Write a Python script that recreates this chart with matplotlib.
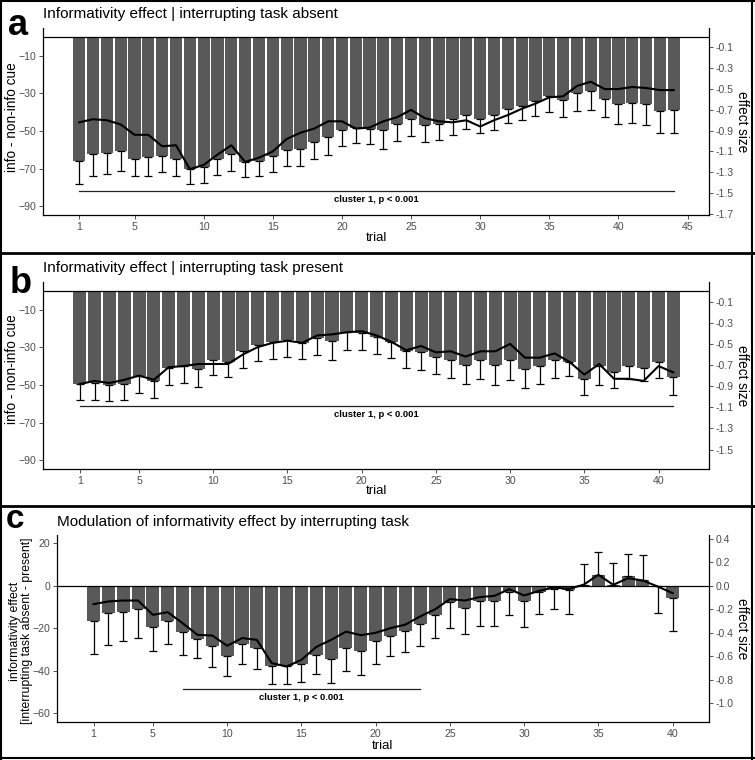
import matplotlib
matplotlib.use("Agg")
import matplotlib.pyplot as plt
from matplotlib.lines import Line2D
import numpy as np

plt.rcParams['font.family'] = ['Liberation Sans', 'DejaVu Sans']

# ---------------- data ----------------
# Panel a: interrupting task absent (44 trials)
a_mean = [-66, -62, -61.5, -60.4, -65, -64, -63.5, -65, -70, -69, -65, -62, -66.5, -65.7,
          -63, -59.9, -59.3, -55.8, -53.1, -49.2, -48.3, -48.9, -49.6, -46, -43.6, -46.9,
          -46, -43.6, -41.3, -43.4, -41.3, -38.3, -36.5, -34.2, -31.5, -33.7, -29.8, -28.9,
          -32.8, -35.4, -35.1, -35.6, -39.5, -38.6]
a_se = [12, 12, 11.5, 10.6, 9, 10, 8.5, 9, 8, 8.5, 8.5, 9, 8, 8.3, 9, 8.8, 9.4, 9.2, 9.8,
        8.8, 8, 8.1, 9.7, 9, 9.2, 9, 8.9, 8.3, 7.6, 7.6, 7.9, 7.4, 7.8, 8, 8.5, 8.8, 9.7,
        10, 9.9, 10.6, 10.6, 11, 11.5, 12.4]
a_es = [-0.82, -0.79, -0.80, -0.84, -0.94, -0.94, -1.05, -1.04, -1.27, -1.23, -1.13, -1.04,
        -1.20, -1.16, -1.10, -0.98, -0.92, -0.88, -0.81, -0.81, -0.88, -0.87, -0.81, -0.77,
        -0.70, -0.78, -0.81, -0.82, -0.80, -0.86, -0.80, -0.75, -0.69, -0.64, -0.58, -0.57,
        -0.47, -0.43, -0.50, -0.50, -0.48, -0.49, -0.51, -0.51]
a_cluster = (1, 44, -82)

# Panel b: interrupting task present (41 trials)
b_mean = [-49.6, -48.7, -50.1, -49.3, -45.4, -48.0, -40.8, -40.1, -41.7, -36.6, -37.8, -31.7,
          -28.7, -27.3, -26.0, -27.8, -25.2, -26.7, -22.0, -22.5, -24.3, -27.3, -31.7, -32.5,
          -35.2, -36.6, -39.2, -36.9, -39.2, -36.6, -41.3, -39.8, -36.9, -37.5, -46.6, -39.6,
          -43.1, -40.1, -40.8, -37.8, -45.8]
b_se = [8.4, 9.3, 8.3, 8.7, 8.8, 8.6, 9.3, 8.6, 9.3, 7.9, 8.1, 9.1, 8.6, 8.8, 9.2, 8.3, 8.7,
        9.7, 9.1, 8.8, 9.0, 8.2, 9.1, 9.7, 9.1, 9.8, 10.0, 9.9, 10.6, 10.5, 10.0, 9.4, 9.4,
        7.9, 8.8, 10.5, 8.5, 6.7, 7.2, 8.5, 9.6]
b_es = [-0.88, -0.85, -0.87, -0.84, -0.80, -0.84, -0.72, -0.71, -0.69, -0.69, -0.69, -0.60,
        -0.53, -0.49, -0.47, -0.49, -0.42, -0.41, -0.39, -0.38, -0.42, -0.48, -0.56, -0.52,
        -0.58, -0.57, -0.62, -0.57, -0.57, -0.50, -0.63, -0.63, -0.59, -0.67, -0.79, -0.69,
        -0.83, -0.83, -0.85, -0.71, -0.77]
b_cluster = (1, 41, -61.2)

# Panel c: modulation (absent - present), 40 trials
c_mean = [-16.4, -12.8, -12.1, -10.9, -19.4, -16.3, -21.9, -25.0, -28.2, -32.9, -27.2, -29.4,
          -37.6, -37.9, -36.6, -32.4, -34.4, -29.0, -30.5, -26.1, -23.5, -21.4, -17.8, -13.6,
          -7.5, -10.3, -7.2, -7.2, -2.7, -7.0, -3.0, -1.4, -1.9, 0.3, 5.3, 0.5, 4.5, 2.8,
          -0.3, -5.9]
c_se = [15.8, 15.2, 14.0, 13.5, 11.4, 10.9, 10.6, 9.1, 10.0, 9.7, 9.4, 9.6, 8.4, 8.2, 8.8,
        8.9, 11.3, 11.2, 11.4, 10.5, 9.7, 9.7, 10.7, 10.7, 12.5, 12.4, 11.5, 11.5, 10.9, 12.4,
        10.1, 9.5, 11.2, 10.0, 10.5, 10.4, 10.5, 11.8, 12.5, 15.1]
c_es = [-0.156, -0.133, -0.125, -0.125, -0.247, -0.224, -0.318, -0.417, -0.423, -0.51, -0.445,
        -0.46, -0.658, -0.687, -0.63, -0.52, -0.46, -0.39, -0.42, -0.40, -0.36, -0.33, -0.26,
        -0.20, -0.113, -0.125, -0.096, -0.085, -0.028, -0.082, -0.043, -0.014, -0.026, 0.009,
        0.094, 0.009, 0.065, 0.045, -0.006, -0.062]
c_cluster = (7, 23, -48.5)

a_title = "Informativity effect | interrupting task absent"
b_title = "Informativity effect | interrupting task present"
c_title = "Modulation of informativity effect by interrupting task"
cluster_label = "cluster 1, p < 0.001"

a_yticks = [-10, -30, -50, -70, -90]
a_es_ticks = [-0.1, -0.3, -0.5, -0.7, -0.9, -1.1, -1.3, -1.5, -1.7]
b_es_ticks = [-0.1, -0.3, -0.5, -0.7, -0.9, -1.1, -1.3, -1.5]
c_yticks = [20, 0, -20, -40, -60]
c_es_ticks = [0.4, 0.2, 0.0, -0.2, -0.4, -0.6, -0.8, -1.0]
a_xticks = [1, 5, 10, 15, 20, 25, 30, 35, 40, 45]
b_xticks = [1, 5, 10, 15, 20, 25, 30, 35, 40]

# ---------------- layout ----------------
W, H = 755, 760
fig = plt.figure(figsize=(W / 100, H / 100), dpi=100)

def fx(x):
    return x / W

def fy(y):
    return 1 - y / H

BAR = '#595959'
TICKC = '#4D4D4D'


def panel(box, mean, se, es, k, ylim, xlim, yticks, es_ticks, es_fmt, xticks, cluster):
    l, t, r, b = box
    ax = fig.add_axes([fx(l), fy(b), fx(r) - fx(l), fy(t) - fy(b)])
    n = len(mean)
    x = np.arange(1, n + 1)
    m = np.array(mean, dtype=float)
    s = np.array(se, dtype=float)
    ax.bar(x, m, width=0.88, color=BAR, zorder=2)
    lower = np.where(m < 0, s, 0)
    upper = np.where(m >= 0, s, 0)
    ax.errorbar(x, m, yerr=[lower, upper], fmt='none', ecolor='black', elinewidth=0.9,
                capsize=2.6, capthick=0.9, zorder=3)
    ax.axhline(0, color='black', lw=0.9, zorder=4)
    c0, c1, cy = cluster
    ax.plot([c0, c1], [cy, cy], color='#222222', lw=0.9, zorder=4)
    ax.text((c0 + c1) / 2, cy - 1.9 * (ylim[1] - ylim[0]) / 100, cluster_label,
            ha='center', va='top', fontsize=6.8, fontweight='bold', zorder=5)
    ax.set_xlim(*xlim)
    ax.set_ylim(*ylim)
    ax.set_yticks(yticks)
    ax.set_xticks(xticks)
    for sp in ['top', 'right']:
        ax.spines[sp].set_visible(False)
    for sp in ['left', 'bottom']:
        ax.spines[sp].set_linewidth(0.9)
    ax.tick_params(length=3, width=0.6, labelsize=7.6, labelcolor=TICKC, color='#333333', pad=2)
    ax2 = ax.twinx()
    ax2.set_ylim(ylim[0] / k, ylim[1] / k)
    ax2.plot(x, es, color='black', lw=1.5, zorder=6)
    ax2.set_yticks(es_ticks)
    ax2.set_yticklabels([es_fmt.format(v) for v in es_ticks])
    for sp in ['top', 'left', 'bottom']:
        ax2.spines[sp].set_visible(False)
    ax2.spines['right'].set_linewidth(0.9)
    ax2.tick_params(length=3, width=0.6, labelsize=7.6, labelcolor=TICKC, color='#333333', pad=2)
    return ax, ax2


ylim_ab = (-94.6, 4.8)
panel((43, 28, 709, 215), a_mean, a_se, a_es, 55.3, ylim_ab, (-1.62, 46.55),
      a_yticks, a_es_ticks, '{:.1f}', a_xticks, a_cluster)
panel((43, 282, 709, 469), b_mean, b_se, b_es, 56.2, ylim_ab, (-1.47, 43.4),
      a_yticks, b_es_ticks, '{:.1f}', b_xticks, b_cluster)
panel((57, 535, 709, 722), c_mean, c_se, c_es, 55.2, (-64.0, 23.9), (-1.46, 42.45),
      c_yticks, c_es_ticks, '{:.1f}', b_xticks, c_cluster)

# titles and panel letters
fig.text(fx(43), fy(18), a_title, fontsize=11, ha='left', va='baseline')
fig.text(fx(43), fy(272), b_title, fontsize=11, ha='left', va='baseline')
fig.text(fx(57), fy(526), c_title, fontsize=11, ha='left', va='baseline')
fig.text(fx(8), fy(35), 'a', fontsize=26, fontweight='bold', ha='left', va='baseline')
fig.text(fx(10), fy(293), 'b', fontsize=26, fontweight='bold', ha='left', va='baseline')
fig.text(fx(6), fy(528), 'c', fontsize=24, fontweight='bold', ha='left', va='baseline')

# axis labels
fig.text(fx(12), fy(117), 'info - non-info cue', rotation=90, fontsize=9.8, ha='center', va='center')
fig.text(fx(12), fy(369), 'info - non-info cue', rotation=90, fontsize=9.8, ha='center', va='center')
fig.text(fx(21), fy(631), 'informativity effect\n[interrupting task absent - present]',
         rotation=90, fontsize=8.8, ha='center', va='center', linespacing=0.95, multialignment='center')
fig.text(fx(376), fy(238), 'trial', fontsize=9.5, ha='center', va='center')
fig.text(fx(376), fy(491), 'trial', fontsize=9.5, ha='center', va='center')
fig.text(fx(383), fy(746), 'trial', fontsize=9.5, ha='center', va='center')
for yc in (122, 376, 629):
    fig.text(fx(742), fy(yc), 'effect size', rotation=270, fontsize=9.8, ha='center', va='center')

# frames / separators
def hline(y, lw=2.0):
    fig.add_artist(Line2D([0, 1], [fy(y), fy(y)], transform=fig.transFigure, color='black', lw=lw))

def vline(x, lw=1.5):
    fig.add_artist(Line2D([fx(x), fx(x)], [0, 1], transform=fig.transFigure, color='black', lw=lw))

hline(0.7, 1.5)
hline(253, 2.0)
hline(506, 2.0)
hline(758, 1.5)
vline(0.7, 1.5)
vline(752, 1.5)

fig.savefig('out.png', dpi=100)
